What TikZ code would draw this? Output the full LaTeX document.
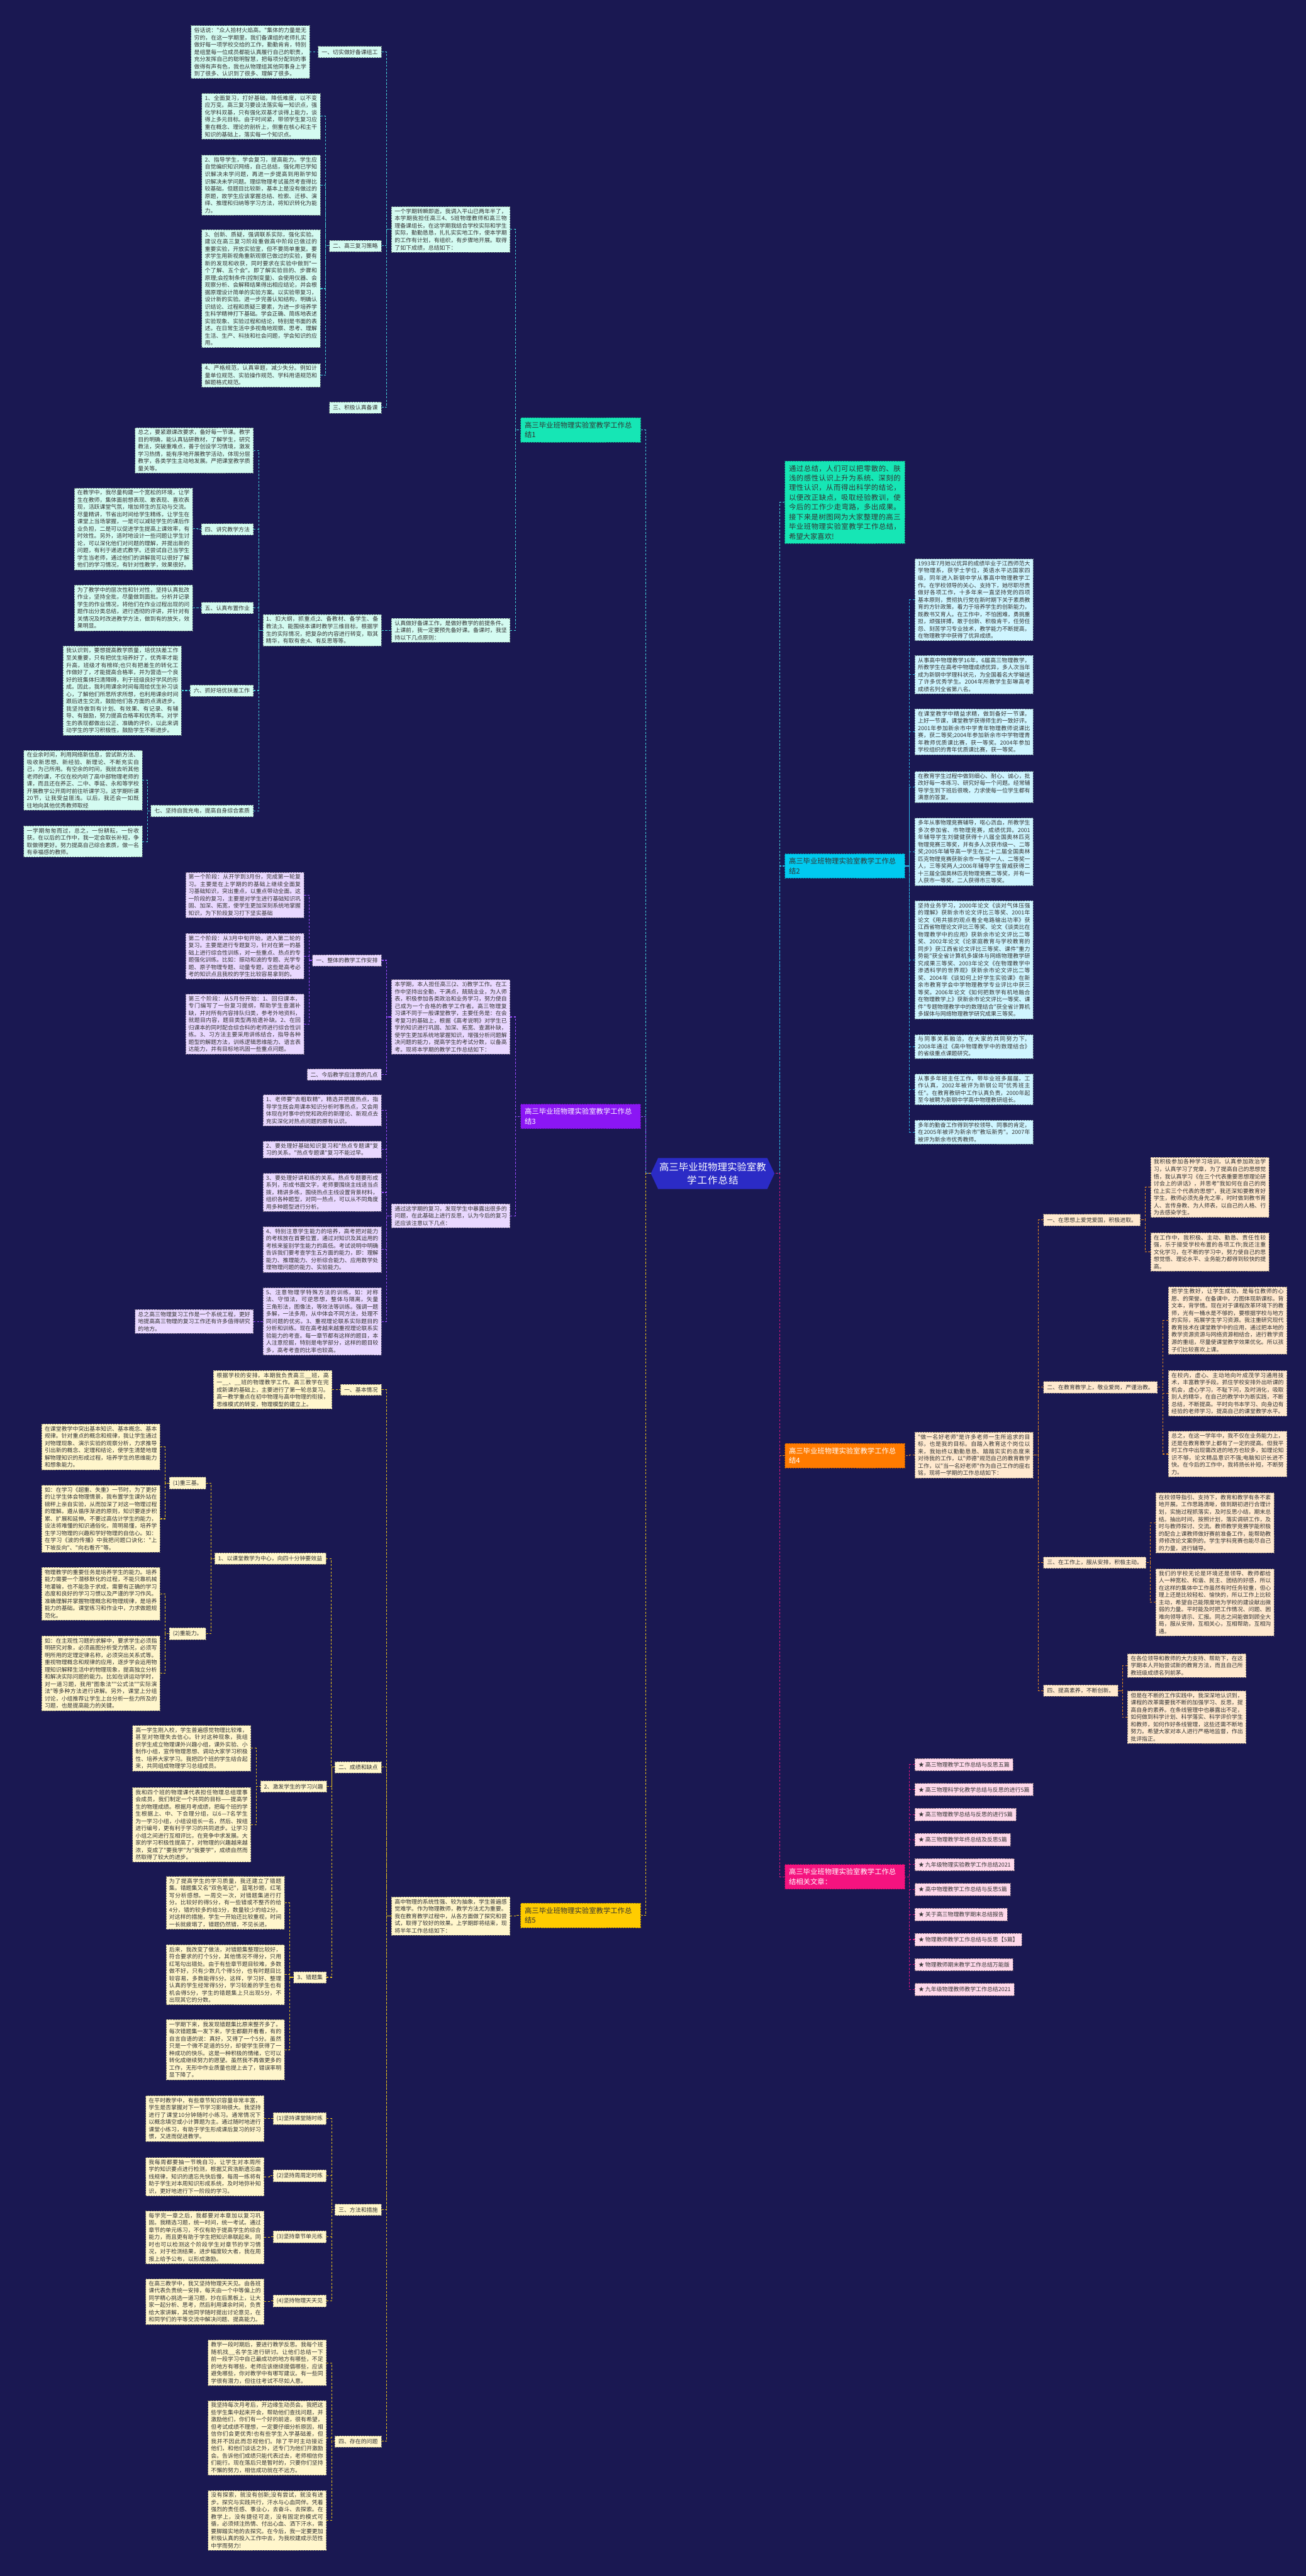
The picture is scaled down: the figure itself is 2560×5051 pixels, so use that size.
\documentclass[tikz,border=0pt]{standalone}
\usepackage{fontspec}
\usepackage{tikz}
\usetikzlibrary{shapes.symbols}
\newfontfamily\cjk{Noto Sans CJK SC}
\XeTeXlinebreaklocale "zh"
\XeTeXlinebreakskip = 0pt plus 1pt
\definecolor{bg}{HTML}{1A1852}
\definecolor{ink}{HTML}{333333}
\definecolor{hub}{HTML}{2B2BC6}
\definecolor{mint}{HTML}{16E6B5}
\definecolor{minttint}{HTML}{D4FBF1}
\definecolor{mintline}{HTML}{45CFD8}
\definecolor{sky}{HTML}{00CAF0}
\definecolor{skytint}{HTML}{CFF5FF}
\definecolor{skyline}{HTML}{2AB8E6}
\definecolor{violet}{HTML}{8B16F4}
\definecolor{violettint}{HTML}{E9D8FF}
\definecolor{violetline}{HTML}{9B4DFF}
\definecolor{amber}{HTML}{FF7B00}
\definecolor{ambertint}{HTML}{FFE9CF}
\definecolor{amberline}{HTML}{E58A1F}
\definecolor{gold}{HTML}{FFCC00}
\definecolor{goldtint}{HTML}{FFF6CC}
\definecolor{goldline}{HTML}{E8C21A}
\definecolor{rose}{HTML}{F5137F}
\definecolor{rosetint}{HTML}{FFD9EB}
\definecolor{roseline}{HTML}{E0157F}
\newcommand{\leaffont}{\cjk\fontsize{11}{14.2}\selectfont}
\newcommand{\branchfont}{\cjk\fontsize{14}{19}\selectfont}
\newcommand{\hubfont}{\cjk\fontsize{19}{25}\selectfont}
\newcommand{\linkl}[3]{\draw[link=#1] (#3.east) -- ++(10,0) |- (#2.west);}
\newcommand{\linkr}[3]{\draw[link=#1] (#3.west) -- ++(-10,0) |- (#2.east);}
\tikzset{
  head/.style={rectangle, fill=#1tint, draw=#1tint!50!black, dash pattern=on 3pt off 2pt,
    line width=0.8pt, inner xsep=7pt, inner ysep=6pt, font=\leaffont, text=ink},
  leaf/.style={head=#1, inner xsep=6pt, inner ysep=4pt, text width=220pt, align=justify},
  branch/.style={rectangle, fill=#1, draw=#1!70!black, dash pattern=on 3pt off 2pt,
    line width=0.8pt, inner xsep=8pt, inner ysep=8pt, text width=219pt, align=left, font=\branchfont},
  link/.style={draw=#1line, dash pattern=on 4pt off 3pt, line width=1.3pt}
}
\begin{document}
\begin{tikzpicture}[x=1pt, y=-1pt]
  \useasboundingbox (0,0) rectangle (2560,5051);
  \fill[bg] (0,0) rectangle (2560,5051);

  \node[shape=signal, signal to=east and west, signal pointer angle=130, fill=hub, text=white,
    font=\hubfont, text width=210pt, align=center, inner xsep=2pt, inner ysep=9pt] (hub) at (1397,2301)
    {高三毕业班物理实验室教\\学工作总结};

  % left: 1
  \node[branch=mint, anchor=east, text=ink] (b1) at (1256,843) {高三毕业班物理实验室教学工作总\\结1};
  \node[leaf=mint, anchor=east] (b1a) at (1000,450) {一个学期转瞬即逝，我调入平山已两年半了，本学期我担任高三4、5班物理教师和高三物理备课组长，在这学期我结合学校实际和学生实际，勤勤恳恳，扎扎实实地工作，使本学期的工作有计划，有组织，有步骤地开展。取得了如下成绩，总结如下：};
  \node[head=mint, anchor=east] (b1a1) at (748,102) {一、切实做好备课组工};
  \node[leaf=mint, anchor=east] (b1a1x) at (607,102) {俗话说："众人拾材火焰高。"集体的力量是无穷的，在这一学期里，我们备课组的老师扎实做好每一项学校交给的工作，勤勤肯肯，特别是组里每一位成员都能认真履行自己的职责，充分发挥自己的聪明智慧，把每项分配到的事做得有声有色，我也从物理组其他同事身上学到了很多、认识到了很多、理解了很多。};
  \node[head=mint, anchor=east] (b1a2) at (748,482) {二、高三复习策略};
  \node[leaf=mint, anchor=east] (b1a2a) at (628,228) {1、全面复习，打好基础，降低难度，以不变应万变。高三复习要设法落实每一知识点，强化学科双基，只有强化双基才谈得上能力，谈得上多元目标。由于时间紧，带领学生复习应重在概念、理论的剖析上，侧重在核心和主干知识的基础上，落实每一个知识点。};
  \node[leaf=mint, anchor=east] (b1a2b) at (628,363) {2、指导学生，学会复习，提高能力。学生应自觉编织知识网络，自己总结，强化用已学知识解决未学问题，再进一步提高到用新学知识解决未学问题。理综物理考试虽然考查得比较基础，但题目比较新，基本上是没有做过的原题，故学生应该掌握总结、检索、迁移、演绎、推理和归纳等学习方法，将知识转化为能力。};
  \node[leaf=mint, anchor=east] (b1a2c) at (628,566) {3、创新、质疑，强调联系实际，强化实验。建议在高三复习阶段重做高中阶段已做过的重要实验，开放实验室，但不要简单重复。要求学生用新视角重新观察已做过的实验，要有新的发现和收获，同时要求在实验中做到"一个了解、五个会"。即了解实验目的、步骤和原理;会控制条件(控制变量)、会使用仪器、会观察分析、会解释结果得出相应结论，并会根据原理设计简单的实验方案。以实验带复习，设计新的实验。进一步完善认知结构，明确认识结论、过程和质疑三要素，为进一步培养学生科学精神打下基础。学会正确、简练地表述实验现象、实验过程和结论，特别是书面的表述。在日常生活中多视角地观察、思考、理解生活、生产、科技和社会问题，学会知识的应用。};
  \node[leaf=mint, anchor=east] (b1a2d) at (628,736) {4、严格规范，认真审题，减少失分。例如计量单位规范、实验操作规范、学科用语规范和解题格式规范。};
  \node[head=mint, anchor=east] (b1a3) at (748,799) {三、积极认真备课};
  \node[leaf=mint, anchor=east] (b1b) at (1000,1236) {认真做好备课工作，是做好教学的前提条件。上课前，我一定要预先备好课。备课时，我坚持以下几点原则：};
  \node[leaf=mint, anchor=east] (b1b1) at (748,1236) {1、扣大纲，抓重点;2、备教材、备学生、备教法;3、能围绕本课时教学三维目标，根据学生的实际情况，把复杂的内容进行转变，取其精华，有取有舍;4、有反思等等。};
  \node[leaf=mint, anchor=east] (b1b1a) at (497,883) {总之，要紧跟课改要求，备好每一节课。教学目的明确，能认真钻研教材，了解学生，研究教法，突破重难点，善于创设学习情境，激发学习热情，能有序地开展教学活动，体现分层教学，各类学生主动地发展。严把课堂教学质量关等。};
  \node[head=mint, anchor=east] (b1m4) at (497,1038) {四、讲究教学方法};
  \node[leaf=mint, anchor=east] (b1m4x) at (378,1037) {在教学中，我尽量构建一个宽松的环境，让学生在教师，集体面前想表现、敢表现、喜欢表现，活跃课堂气氛，增加师生的互动与交流。尽量精讲，节省出时间给学生精练，让学生在课堂上当场掌握，一是可以减轻学生的课后作业负担，二是可以促进学生提高上课效率，有时效性。另外，适时地设计一些问题让学生讨论，可以深化他们对问题的理解，并提出新的问题，有利于递进式教学。还尝试自己当学生学生当老师，通过他们的讲解我可以很好了解他们的学习情况，有针对性教学，效果很好。};
  \node[head=mint, anchor=east] (b1m5) at (497,1192) {五、认真布置作业};
  \node[leaf=mint, anchor=east] (b1m5x) at (378,1192) {为了教学中的层次性和针对性，坚持认真批改作业，坚持全批，尽量做到面批。分析并记录学生的作业情况，将他们在作业过程出现的问题作出分类总结，进行透彻的评讲，并针对有关情况及时改进教学方法，做到有的放矢，效果明显。};
  \node[head=mint, anchor=east] (b1m6) at (497,1354) {六、抓好培优扶差工作};
  \node[leaf=mint, anchor=east] (b1m6x) at (356,1354) {我认识到，要想提高教学质量，培优扶差工作至关重要，只有把优生培养好了，优秀率才能升高，班级才有榜样;也只有把差生的转化工作做好了，才能提高合格率，并为营造一个良好的班集体扫清障碍，利于班级良好学风的形成。因此，我利用课余时间每周给优生补习谈心，了解他们所思所求所想，也利用课余时间跟后进生交流，鼓励他们各方面的点滴进步。我坚持做到有计划、有效果、有记录、有辅导、有鼓励，努力提高合格率和优秀率。对学生的表现都做出公正、准确的评价，以此来调动学生的学习积极性，鼓励学生不断进步。};
  \node[head=mint, anchor=east] (b1m7) at (497,1590) {七、坚持自我充电，提高自身综合素质};
  \node[leaf=mint, anchor=east] (b1m7a) at (279,1530) {在业余时间，利用网络新信息，尝试新方法、吸收新思想、新经验、新理论、不断充实自己，为己所用。有空余的时间，我就去听其他老师的课，不仅在校内听了高中部物理老师的课，而且还在养正、二中、季延、永和等学校开展教学公开周时前往听课学习。这学期听课20节，让我受益匪浅。以后，我还会一如既往地向其他优秀教师取经};
  \node[leaf=mint, anchor=east] (b1m7b) at (279,1650) {一学期匆匆而过，总之，一份耕耘，一份收获。在以后的工作中，我一定会取长补短，争取做得更好。努力提高自己综合素质，做一名有幸福感的教师。};
  \linkl{mint}{hub}{b1}
  \linkl{mint}{b1}{b1a} \linkl{mint}{b1}{b1b}
  \linkl{mint}{b1a}{b1a1} \linkl{mint}{b1a}{b1a2} \linkl{mint}{b1a}{b1a3}
  \linkl{mint}{b1a1}{b1a1x}
  \foreach \n in {a,b,c,d} { \linkl{mint}{b1a2}{b1a2\n} }
  \linkl{mint}{b1b}{b1b1}
  \foreach \n in {b1b1a,b1m4,b1m5,b1m6,b1m7} { \linkl{mint}{b1b1}{\n} }
  \linkl{mint}{b1m4}{b1m4x} \linkl{mint}{b1m5}{b1m5x} \linkl{mint}{b1m6}{b1m6x}
  \linkl{mint}{b1m7}{b1m7a} \linkl{mint}{b1m7}{b1m7b}

  % left: 3
  \node[branch=violet, anchor=east, text=white] (b3) at (1256,2189) {高三毕业班物理实验室教学工作总\\结3};
  \node[leaf=violet, anchor=east] (b3p) at (1000,1994) {本学期，本人担任高三(2、3)教学工作。在工作中坚持出全勤，干满点，兢兢业业，为人师表，积极参加各类政治和业务学习，努力使自己成为一个合格的教学工作者。高三物理复习课不同于一般课堂教学，主要任务是：在会考复习的基础上，根据《高考说明》对学生已学的知识进行巩固、加深、拓宽、查漏补缺，使学生更加系统地掌握知识，增强分析问题解决问题的能力，提高学生的考试分数，以备高考。现将本学期的教学工作总结如下：};
  \node[head=violet, anchor=east] (b3p1) at (748,1883) {一、整体的教学工作安排};
  \node[leaf=violet, anchor=east] (b3p1a) at (596,1755) {第一个阶段：从开学到3月份，完成第一轮复习。主要是在上学期的的基础上继续全面复习基础知识，突出重点，以重点带动全面。这一阶段的复习，主要是对学生进行基础知识巩固、加深、拓宽，使学生更加深刻系统地掌握知识，为下阶段复习打下坚实基础};
  \node[leaf=violet, anchor=east] (b3p1b) at (596,1875) {第二个阶段：从3月中旬开始，进入第二轮的复习。主要是进行专题复习，针对在第一的基础上进行综合性训练，对一些重点、热点的专题强化训练。比如：振动和波的专题、光学专题、原子物理专题、动量专题，这些是高考必考的知识点且我校的学生比较容易拿到的。};
  \node[leaf=violet, anchor=east] (b3p1c) at (596,2008) {第三个阶段：从5月份开始：1、回归课本，专门编写了一份复习提纲，帮助学生查漏补缺，并对所有内容排队归类，参考外地资料，就题目内容，题目类型再拾遗补缺。2、在回归课本的同时配合综合科的老师进行综合性训练。3、习方法主要采用讲练结合，指导各种题型的解题方法，训练逻辑思维能力、语言表达能力，并有目标地巩固一些重点问题。};
  \node[head=violet, anchor=east] (b3p2) at (748,2107) {二、今后教学应注意的几点};
  \node[leaf=violet, anchor=east] (b3q) at (1000,2384) {通过这学期的复习，发现学生中暴露出很多的问题，在此基础上进行反思，认为今后的复习还应该注意以下几点：};
  \node[leaf=violet, anchor=east] (b3q1) at (748,2177) {1、老师要"去粗取精"，精选并把握热点，指导学生既会用课本知识分析时事热点，又会用体现在时事中的党和政府的新理论、新观点去充实深化对热点问题的原有认识。};
  \node[leaf=violet, anchor=east] (b3q2) at (748,2254) {2、要处理好基础知识复习和"热点专题课"复习的关系。"热点专题课"复习不能过早。};
  \node[leaf=violet, anchor=east] (b3q3) at (748,2338) {3、要处理好讲和练的关系。热点专题要形成系列，形成书面文字，老师要围绕主线适当点拨，精讲多练，围绕热点主线设置背景材料，组织各种题型，对同一热点，可以从不同角度用多种题型进行分析。};
  \node[leaf=violet, anchor=east] (b3q4) at (748,2450) {4、特别注意学生能力的培养，高考把对能力的考核放在首要位置，通过对知识及其运用的考核来鉴别学生能力的高低。考试说明中明确告诉我们要考查学生五方面的能力，即：理解能力、推理能力、分析综合能力、应用数学处理物理问题的能力、实验能力。};
  \node[leaf=violet, anchor=east] (b3q5) at (748,2591) {5、注意物理学特殊方法的训练，如：对称法、守恒法，可逆思想，整体与隔离，矢量三角形法，图像法，等效法等训练。强调一题多解，一法多用，从中体会不同方法，处理不同问题的优劣。3、重视理论联系实际题目的分析和训练。现在高考越来越重视理论联系实验能力的考查。每一章节都有这样的题目，本人注意挖掘，特别是电学部分，这样的题目较多，高考考查的比率也较高。};
  \node[leaf=violet, anchor=east] (b3q5x) at (497,2591) {总之高三物理复习工作是一个系统工程，更好地提高高三物理的复习工作还有许多值得研究的地方。};
  \linkl{violet}{hub}{b3}
  \linkl{violet}{b3}{b3p} \linkl{violet}{b3}{b3q}
  \linkl{violet}{b3p}{b3p1} \linkl{violet}{b3p}{b3p2}
  \foreach \n in {a,b,c} { \linkl{violet}{b3p1}{b3p1\n} }
  \foreach \n in {1,...,5} { \linkl{violet}{b3q}{b3q\n} }
  \linkl{violet}{b3q5}{b3q5x}

  % left: 5
  \node[branch=gold, anchor=east, text=ink] (b5) at (1256,3756) {高三毕业班物理实验室教学工作总\\结5};
  \node[leaf=gold, anchor=east] (b5r) at (1000,3757) {高中物理的系统性强、较为抽象，学生普遍感觉难学。作为物理教师，教学方法尤为重要。我在教育教学过程中，从各方面做了探究和尝试，取得了较好的效果。上学期即将结束，现将半年工作总结如下：};
  \node[head=gold, anchor=east] (b5r1) at (748,2725) {一、基本情况};
  \node[leaf=gold, anchor=east] (b5r1x) at (651,2725) {根据学校的安排，本期我负责高三\_\_班，高一\_\_、\_\_班的物理教学工作。高三教学在完成新课的基础上，主要进行了第一轮总复习。高一教学重点在初中物理与高中物理的衔接，思维模式的转变，物理模型的建立上。};
  \node[head=gold, anchor=east] (b5r2) at (748,3465) {二、成绩和缺点};
  \node[head=gold, anchor=east] (b5s1) at (639,3056) {1、以课堂教学为中心，向四十分钟要效益};
  \node[head=gold, anchor=east] (b5t1) at (404,2908) {(1)重三基。};
  \node[leaf=gold, anchor=east] (b5t1a) at (314,2837) {在课堂教学中突出基本知识、基本概念、基本规律。针对重点的概念和规律，我让学生通过对物理现象、演示实验的观察分析，力求推导引出新的概念、定理和结论，使学生清楚地理解物理知识的形成过程，培养学生的思维能力和想象能力。};
  \node[leaf=gold, anchor=east] (b5t1b) at (314,2978) {如：在学习《超重、失重》一节时，为了更好的让学生体会物理情景，我布置学生课外站在磅秤上亲自实验，从而加深了对这一物理过程的理解。遵从循序渐进的原则，知识要逐步积累、扩展和延伸。不要过高估计学生的能力，设法将难懂的知识通俗化，简明易懂，培养学生学习物理的兴趣和学好物理的自信心。如：在学习《波的传播》中我把问题口诀化："上下坡反向"、"向右看齐"等。};
  \node[head=gold, anchor=east] (b5t2) at (404,3203) {(2)重能力。};
  \node[leaf=gold, anchor=east] (b5t2a) at (314,3125) {物理教学的重要任务是培养学生的能力。培养能力需要一个潜移默化的过程，不能只靠机械地灌输，也不能急于求成，需要有正确的学习态度和良好的学习习惯以及严谨的学习作风。准确理解并掌握物理概念和物理规律，是培养能力的基础。课堂练习和作业中，力求做题规范化。};
  \node[leaf=gold, anchor=east] (b5t2b) at (314,3281) {如：在主观性习题的求解中，要求学生必须指明研究对象，必须画图分析受力情况，必须写明所用的定理定律名称，必须突出关系式等。重视物理概念和规律的应用，逐步学会运用物理知识解释生活中的物理现象，提高独立分析和解决实际问题的能力。比如在讲运动学时，对一道习题，我用"图象法""公式法""实际演法"等多种方法进行讲解。另外，课堂上分组讨论，小组推荐让学生上台分析一些力所及的习题，也是提高能力的关键。};
  \node[head=gold, anchor=east] (b5s2) at (641,3503) {2、激发学生的学习兴趣};
  \node[leaf=gold, anchor=east] (b5s2a) at (492,3428) {高一学生刚入校，学生普遍感觉物理比较难，甚至对物理失去信心。针对这种现象，我组织学生成立物理课外兴趣小组，课外实验、小制作小组，宣传物理思想、调动大家学习积极性、培养大家学习。我把四个班的学生结合起来，共同组成物理学习总组成员。};
  \node[leaf=gold, anchor=east] (b5s2b) at (492,3578) {我和四个班的物理课代表担任物理总组理事会成员，我们制定一个共同的目标——提高学生的物理成绩。根据月考成绩，把每个班的学生根据上、中、下合理分组，以6—7名学生为一学习小组，小组设组长一名，然后、按组进行编号，更有利于学习的共同进步。让学习小组之间进行互相评比，在竞争中求发展。大家的学习积极性提高了，对物理的兴趣越来越浓，变成了"要我学"为"我要学"，成绩自然而然取得了较大的进步。};
  \node[head=gold, anchor=east] (b5s3) at (640,3877) {3、错题集};
  \node[leaf=gold, anchor=east] (b5s3a) at (558,3731) {为了提高学生的学习质量，我还建立了错题集。错题集又名"双色笔记"，蓝笔抄题，红笔写分析感想。一周交一次，对错题集进行打分。比较好的得5分，有一些错或不整齐的给4分，错的较多的给3分，数量较少的给2分。对这样的措施，学生一开始还比较重视，时间一长就疲塌了，错题仍然错，不见长进。};
  \node[leaf=gold, anchor=east] (b5s3b) at (558,3872) {后来，我改变了做法，对错题集整理比较好，符合要求的打个5分，其他情况不得分，只用红笔勾出错处。由于有些章节题目较难，多数做不好，只有少数几个得5分，也有时题目比较容易，多数能得5分。这样，学习好、整理认真的学生经常得5分，学习较差的学生也有机会得5分，学生的错题集上只出现5分，不出现其它的分数。};
  \node[leaf=gold, anchor=east] (b5s3c) at (558,4019) {一学期下来，我发现错题集比原来整齐多了。每次错题集一发下来，学生都翻开看看，有的自言自语的说：真好，又得了一个5分。虽然只是一个微不足道的5分，却使学生获得了一种成功的快乐。这是一种积极的情绪，它可以转化成继续努力的愿望。虽然我不再做更多的工作，无形中作业质量也提上去了，错误率明显下降了。};
  \node[head=gold, anchor=east] (b5r3) at (748,4333) {三、方法和措施};
  \node[head=gold, anchor=east] (b5p1) at (640,4154) {(1)坚持课堂随时练};
  \node[leaf=gold, anchor=east] (b5p1x) at (518,4154) {在平时教学中，有些章节知识容量非常丰富，学生是否掌握对下一节学习影响很大。我坚持进行了课堂10分钟随时小练习。通常情况下以概念填空或小计算题为主。通过随时地进行课堂小练习，有助于学生形成课后复习的好习惯，又进而促进教学。};
  \node[head=gold, anchor=east] (b5p2) at (640,4266) {(2)坚持周周定时练};
  \node[leaf=gold, anchor=east] (b5p2x) at (518,4268) {我每周都要抽一节晚自习，让学生对本周所学的知识要点进行检测，根据艾宾浩斯遗忘曲线规律，知识的遗忘先快后慢，每周一练将有助于学生对本周知识形成系统，及时地弥补知识，更好地进行下一阶段的学习。};
  \node[head=gold, anchor=east] (b5p3) at (640,4386) {(3)坚持章节单元练};
  \node[leaf=gold, anchor=east] (b5p3x) at (518,4387) {每学完一章之后，我都要对本章加以复习巩固。我精选习题，统一时间，统一考试。通过章节的单元练习，不仅有助于提高学生的综合能力，而且更有助于学生把知识串联起来。同时也可以检测这个阶段学生对章节的学习情况，对于检测结果，进步幅度较大者，我在周报上给予公布，以形成激励。};
  \node[head=gold, anchor=east] (b5p4) at (640,4512) {(4)坚持物理天天见};
  \node[leaf=gold, anchor=east] (b5p4x) at (518,4513) {在高三教学中，我又坚持物理天天见。由各班课代表负责统一安排，每天由一个中等偏上的同学精心挑选一道习题，抄在后黑板上，让大家一起分析、思考，然后利用课余时间，负责给大家讲解，其他同学随时提出讨论意见，在和同学们的平等交流中解决问题、提高能力。};
  \node[head=gold, anchor=east] (b5r4) at (748,4787) {四、存在的问题};
  \node[leaf=gold, anchor=east] (b5r4a) at (640,4633) {教学一段时期后，要进行教学反思。我每个班随机找\_\_名学生进行研讨。让他们总结一下前一段学习中自己最成功的地方有哪些，不足的地方有哪些，老师应该继续提倡哪些，应该避免哪些，你对教学中有哪写建议。有一些同学很有潜力，但往往考试不尽如人意。};
  \node[leaf=gold, anchor=east] (b5r4b) at (640,4780) {我坚持每次月考后，开边缘生动员会。我把这些学生集中起来开会，帮助他们查找问题，并激励他们，你们有一个好的前途，很有希望，但考试成绩不理想，一定要仔细分析原因，相信你们会更优秀!也有些学生入学基础差，但我并不因此而忽视他们。除了平时主动接近他们，和他们谈话之外，还专门为他们开激励会。告诉他们成绩只能代表过去，老师相信你们能行。现在落后只是暂时的，只要你们坚持不懈的努力，相信成功就在不远方。};
  \node[leaf=gold, anchor=east] (b5r4c) at (640,4942) {没有探索，就没有创新;没有尝试，就没有进步。探究与实践共行，汗水与心血同伴。凭着强烈的责任感、事业心，去奋斗、去探索。在教学上，没有捷径可走，没有固定的模式可循，必须倾注热情、付出心血、洒下汗水，需要脚踏实地的去探究。在今后，我一定要更加积极认真的投入工作中去，为我校建成示范性中学而努力!};
  \linkl{gold}{hub}{b5}
  \linkl{gold}{b5}{b5r}
  \foreach \n in {1,...,4} { \linkl{gold}{b5r}{b5r\n} }
  \linkl{gold}{b5r1}{b5r1x}
  \foreach \n in {1,2,3} { \linkl{gold}{b5r2}{b5s\n} }
  \linkl{gold}{b5s1}{b5t1} \linkl{gold}{b5s1}{b5t2}
  \linkl{gold}{b5t1}{b5t1a} \linkl{gold}{b5t1}{b5t1b}
  \linkl{gold}{b5t2}{b5t2a} \linkl{gold}{b5t2}{b5t2b}
  \linkl{gold}{b5s2}{b5s2a} \linkl{gold}{b5s2}{b5s2b}
  \foreach \n in {a,b,c} { \linkl{gold}{b5s3}{b5s3\n} \linkl{gold}{b5r4}{b5r4\n} }
  \foreach \n in {1,...,4} { \linkl{gold}{b5r3}{b5p\n} \linkl{gold}{b5p\n}{b5p\n x} }

  % right: intro, 2
  \node[branch=mint, anchor=west, text=ink, align=justify] (intro) at (1538,985) {通过总结，人们可以把零散的、肤浅的感性认识上升为系统、深刻的理性认识，从而得出科学的结论，以便改正缺点，吸取经验教训，使今后的工作少走弯路，多出成果。接下来是树图网为大家整理的高三毕业班物理实验室教学工作总结，希望大家喜欢!};
  \linkr{mint}{hub}{intro}
  \node[branch=sky, anchor=west, text=ink] (b2) at (1538,1698) {高三毕业班物理实验室教学工作总\\结2};
  \linkr{sky}{hub}{b2}
  \foreach \y/\t [count=\i] in {
    1176/{1993年7月她以优异的成绩毕业于江西师范大学物理系，获学士学位，英语水平达国家四级，同年进入新钢中学从事高中物理教学工作。在学校领导的关心、支持下，她尽职尽责做好各项工作，十多年来一直坚持党的四项基本原则，贯彻执行党在新时期下关于素质教育的方针政策，着力于培养学生的创新能力，既教书又育人。在工作中，不怕困难，勇挑重担，顽强拼搏，敢于创新、积极肯干，任劳任怨、刻苦学习专业技术，教学能力不断提高，在物理教学中获得了优异成绩。},
    1323/{从事高中物理教学16年，6届高三物理教学，所教学生在高考中物理成绩优异，多人次当年成为新钢中学理科状元，为全国着名大学输送了许多优秀学生。2004年所教学生彭琳高考成绩名列全省第八名。},
    1435/{在课堂教学中精益求精，做到备好一节课，上好一节课，课堂教学获得师生的一致好评。2001年参加新余市中学青年物理教师说课比赛，获二等奖;2004年参加新余市中学物理青年教师优质课比赛，获一等奖。2004年参加学校组织的青年优质课比赛，获一等奖。},
    1543/{在教育学生过程中做到细心、耐心、诚心，批改好每一本练习、研究好每一个问题。经常辅导学生到下班后很晚，力求使每一位学生都有满意的答复。},
    1670/{多年从事物理竞赛辅导，呕心沥血，所教学生多次参加省、市物理竞赛，成绩优异。2001年辅导学生刘健健获得十八届全国奥林匹克物理竞赛三等奖，并有多人次获市级一、二等奖;2005年辅导高一学生在二十二届全国奥林匹克物理竞赛获新余市一等奖一人、二等奖一人，三等奖两人;2006年辅导学生曾威获得二十三届全国奥林匹克物理竞赛二等奖，并有一人获市一等奖，二人获得市三等奖。},
    1882/{坚持业务学习，2000年论文《谈对气体压强的理解》获新余市论文评比三等奖、2001年论文《用共振的观点看全电路输出功率》获江西省物理论文评比三等奖、论文《谈类比在物理教学中的应用》获新余市论文评比二等奖、2002年论文《论家庭教育与学校教育的同步》获江西省论文评比三等奖、课件"重力势能"获全省计算机多媒体与网络物理教学研究成果三等奖、2003年论文《在物理教学中渗透科学的世界观》获新余市论文评比二等奖、2004年《谈如何上好学生实验课》在新余市教育学会中学物理教学专业评比中获三等奖。2006年论文《如何把数学有机地融合在物理教学上》获新余市论文评比一等奖、课件"专题物理教学中的数理结合"获全省计算机多媒体与网络物理教学研究成果三等奖。},
    2052/{与同事关系融洽，在大家的共同努力下，2008年通过《高中物理教学中的数理结合》的省级重点课题研究。},
    2136/{从事多年班主任工作，带毕业班多届届，工作认真，2002年被评为新钢公司"优秀班主任"。在教育教研中工作认真负责，2000年起至今被聘为新钢中学高中物理教研组长。},
    2220/{多年的勤奋工作得到学校领导、同事的肯定，在2005年被评为新余市"教坛新秀"。2007年被评为新余市优秀教师。}} {
    \node[leaf=sky, anchor=west] (b2l\i) at (1793,\y) {\t};
    \linkr{sky}{b2}{b2l\i}
  }

  % right: 4
  \node[branch=amber, anchor=west, text=white] (b4) at (1538,2854) {高三毕业班物理实验室教学工作总\\结4};
  \node[leaf=amber, anchor=west] (b4w) at (1793,2853) {"做一名好老师"是许多老师一生所追求的目标，也是我的目标。自踏入教育这个岗位以来，我始终以勤勤恳恳、踏踏实实的态度来对待我的工作，以"师德"规范自己的教育教学工作，以"当一名好老师"作为自己工作的座右铭，现将一学期的工作总结如下：};
  \node[head=amber, anchor=west] (b4h1) at (2045,2392) {一、在思想上爱党爱国，积极进取。};
  \node[leaf=amber, anchor=west] (b4h1a) at (2255,2328) {我积极参加各种学习培训，认真参加政治学习，认真学习了党章，为了提高自己的思想觉悟，我认真学习《在三个代表重要思想理论研讨会上的讲话》，并思考"我如何在自己的岗位上实三个代表的思想"，我还深知要教育好学生，教师必须先身先之率，时时做到教书育人、言传身教、为人师表，以自己的人格、行为去感染学生。};
  \node[leaf=amber, anchor=west] (b4h1b) at (2255,2455) {在工作中，我积极、主动、勤恳、责任性较强，乐于接受学校布置的各项工作;我还注重文化学习，在不断的学习中，努力使自己的思想觉悟、理论水平、业务能力都得到较快的提高。};
  \node[head=amber, anchor=west] (b4h2) at (2045,2720) {二、在教育教学上，敬业爱岗，严谨治教。};
  \node[leaf=amber, anchor=west] (b4h2a) at (2290,2589) {把学生教好，让学生成功，是每位教师的心愿、的荣誉。在备课中，力图体现新课标。背文本，背学情。现在对于课程改革环境下的教师，光有一桶水是不够的，要根据学校与地方的实际，拓展学生学习资源。我注重研究现代教育技术在课堂教学中的应用，通过把本地的教学资源资源与网络资源相结合，进行教学资源的重组，尽量使课堂教学效果优化。所以孩子们比较喜欢上课。};
  \node[leaf=amber, anchor=west] (b4h2b) at (2290,2732) {在校内，虚心、主动地向叶成茂学习通用技术，丰富教学手段。抓住学校安排外出听课的机会，虚心学习，不耻下问，及时消化，吸取别人的精华，在自己的教学中为断实践，不断总结，不断提高。平时向书本学习、向身边有经验的老师学习，提高自己的课堂教学水平。};
  \node[leaf=amber, anchor=west] (b4h2c) at (2290,2851) {总之，在这一学年中，我不仅在业务能力上，还是在教育教学上都有了一定的提高。但我平时工作中出现需改进的地方也较多，如理论知识不够，论文精品意识不强;电脑知识长进不快。在今后的工作中，我将扬长补短，不断努力。};
  \node[head=amber, anchor=west] (b4h3) at (2045,3064) {三、在工作上，服从安排，积极主动。};
  \node[leaf=amber, anchor=west] (b4h3a) at (2265,2986) {在校领导指引、支持下，教育和教学有条不紊地开展。工作思路清晰，做到期初进行合理计划，实施过程抓落实，及时反思小结，期末总结。抽出时间，按照计划，落实调研工作，及时与教师探讨、交流。教师教学竞赛学能积极的配合上课教师做好赛前准备工作，能帮助教师修改论文案例的。学生学科竞赛也能尽自己的力量，进行辅导。};
  \node[leaf=amber, anchor=west] (b4h3b) at (2265,3142) {我们的学校无论是环境还是领导、教师都给人一种宽松、和谐、民主、团结的好感，所以在这样的集体中工作虽然有时任务较重，但心理上还是比较轻松、愉快的，所以工作上比较主动，希望自己能限度地为学校的建设献出微弱的力量。平时能及时把工作情况、问题、困难向领导请示、汇报。同志之间能做到顾全大局，服从安排，互相关心，互相帮助，互相沟通。};
  \node[head=amber, anchor=west] (b4h4) at (2045,3315) {四、提高素养，不断创新。};
  \node[leaf=amber, anchor=west] (b4h4a) at (2210,3266) {在各位领导和教师的大力支持、帮助下，在这学期本人开始尝试新的教育方法，而且自己所教班级成绩名列前茅。};
  \node[leaf=amber, anchor=west] (b4h4b) at (2210,3367) {但是在不断的工作实践中，我深深地认识到，课程的改革需要我不断的加强学习、反思，提高自身的素养。在条线管理中也暴露出不足，如何做到科学计划、科学落实、科学评价学生和教师，如何作好条线管理，这些还需不断地努力。希望大家对本人进行严格地监督，作出批评指正。};
  \linkr{amber}{hub}{b4}
  \linkr{amber}{b4}{b4w}
  \foreach \n in {1,...,4} { \linkr{amber}{b4w}{b4h\n} }
  \linkr{amber}{b4h1}{b4h1a} \linkr{amber}{b4h1}{b4h1b}
  \foreach \n in {a,b,c} { \linkr{amber}{b4h2}{b4h2\n} }
  \linkr{amber}{b4h3}{b4h3a} \linkr{amber}{b4h3}{b4h3b}
  \linkr{amber}{b4h4}{b4h4a} \linkr{amber}{b4h4}{b4h4b}

  % right: related
  \node[branch=rose, anchor=west, text=white] (rel) at (1538,3680) {高三毕业班物理实验室教学工作总\\结相关文章：};
  \linkr{rose}{hub}{rel}
  \foreach \t [count=\i from 0] in {高三物理教学工作总结与反思五篇, 高三物理科学化教学总结与反思的进行5篇,
    高三物理教学总结与反思的进行5篇, 高三物理教学年终总结及反思5篇, 九年级物理实验教学工作总结2021,
    高中物理教学工作总结与反思5篇, 关于高三物理教学期末总结报告, 物理教师教学工作总结与反思【5篇】,
    物理教师期末教学工作总结万能版, 九年级物理教师教学工作总结2021} {
    \node[head=rose, anchor=west, inner ysep=7pt] (rel\i) at (1793,{3460+49*\i}) {★ \t};
    \linkr{rose}{rel}{rel\i}
  }
\end{tikzpicture}
\end{document}
